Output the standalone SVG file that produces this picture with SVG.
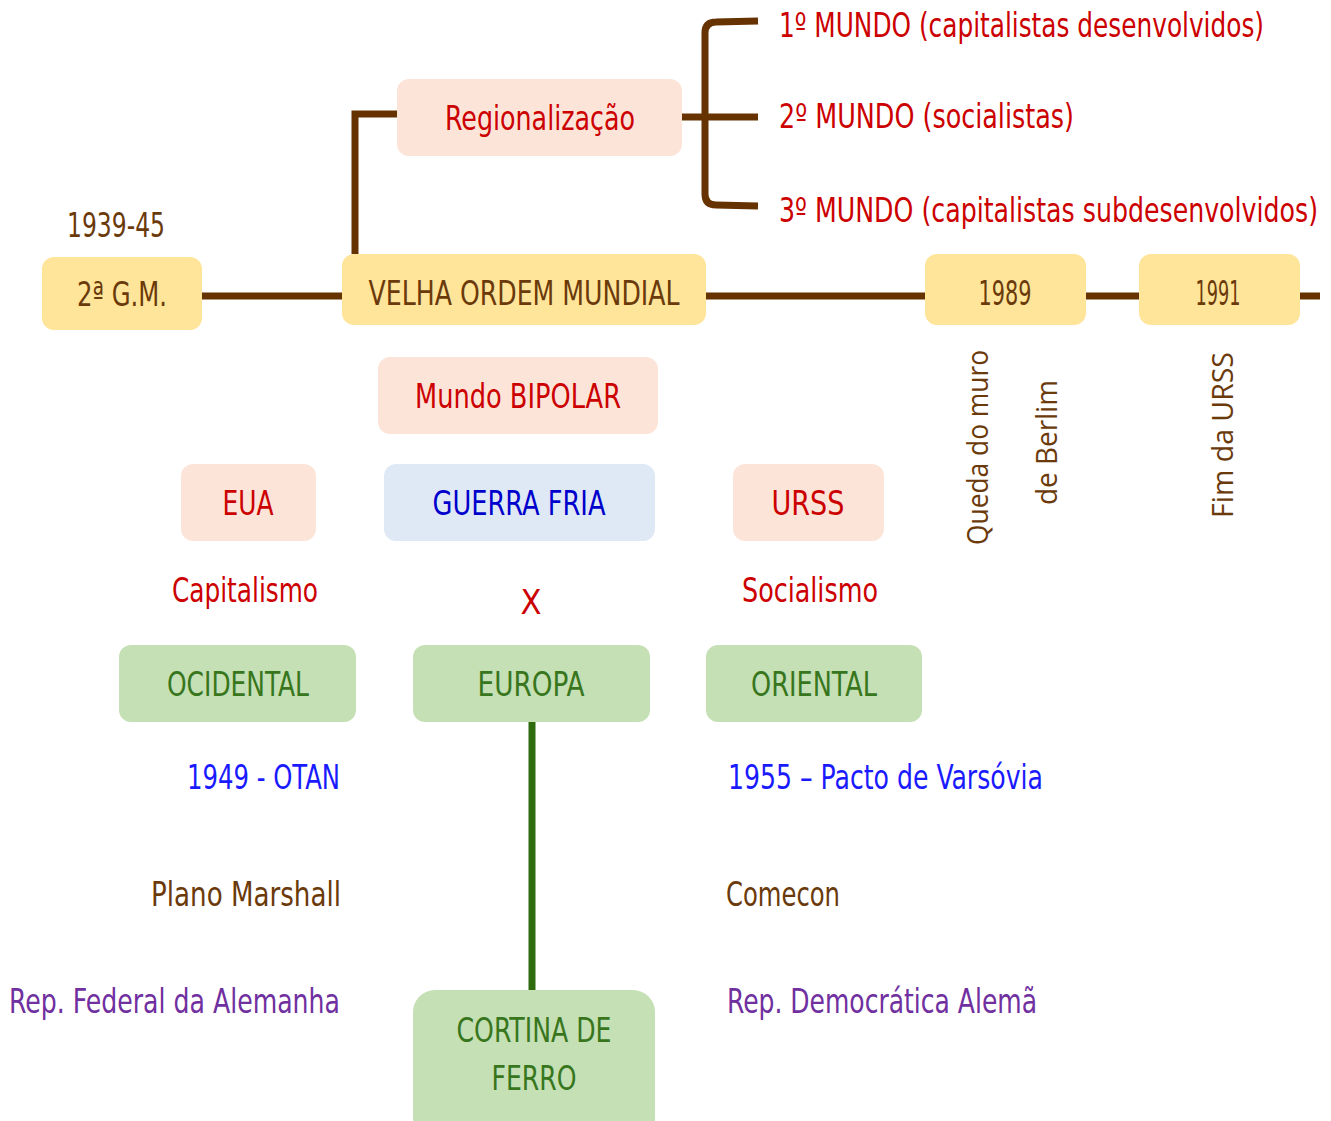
<svg xmlns="http://www.w3.org/2000/svg" width="1331" height="1121" viewBox="0 0 1331 1121">
<style>
text{font-family:"Liberation Sans Narrow","DejaVu Sans Condensed","Liberation Sans",sans-serif;font-size:34px;}
.c{text-anchor:middle}
.e{text-anchor:end}
.brown{fill:#6b3a0b}
.red{fill:#cc0000}
.blue{fill:#0000cc}
.bl2{fill:#1a1aff}
.green{fill:#38761d}
.purple{fill:#7030a0}
.rot{font-family:"Open Sans","Noto Sans","DejaVu Sans",sans-serif;font-size:29px;fill:#6b3a0b}
.sm{font-size:26px}
.y{fill:#ffe599}
.p{fill:#fce5d8}
.b{fill:#dfe9f6}
.g{fill:#c5e0b4}
.ln{fill:none;stroke:#663300;stroke-width:7}
.gl{fill:none;stroke:#2f6b0f;stroke-width:7}
</style>
<rect width="1331" height="1121" fill="#ffffff"/>
<g id="connectors">
<path class="ln" d="M202,296 H342"/>
<path class="ln" d="M355,254 V114 H397"/>
<path class="ln" d="M682,117 H758"/>
<path class="ln" d="M758,21 L716,22 Q705,22 705,33 L705,194 Q705,205 716,205 L758,206"/>
<path class="ln" d="M706,296 H925"/>
<path class="ln" d="M1086,296 H1139"/>
<path class="ln" d="M1300,296 H1320"/>
<path class="gl" d="M532,722 V990"/>
</g>
<g id="n-1939"><text class="brown" x="67" y="237" textLength="98" lengthAdjust="spacingAndGlyphs" font-size="31">1939-45</text></g>
<g id="n-2gm"><rect class="y" x="42" y="257" width="160" height="73" rx="12"/><text class="brown c" x="122" y="306" textLength="90" lengthAdjust="spacingAndGlyphs">2ª G.M.</text></g>
<g id="n-velha"><rect class="y" x="342" y="254" width="364" height="71" rx="12"/><text class="brown c" x="524" y="305" textLength="311" lengthAdjust="spacingAndGlyphs">VELHA ORDEM MUNDIAL</text></g>
<g id="n-regional"><rect class="p" x="397" y="79" width="285" height="77" rx="12"/><text class="red c" x="540" y="130" textLength="190" lengthAdjust="spacingAndGlyphs">Regionalização</text></g>
<g id="n-mundo1"><text class="red sm" transform="translate(779,37) scale(1,1.3)" textLength="485" lengthAdjust="spacingAndGlyphs">1º MUNDO (capitalistas desenvolvidos)</text></g>
<g id="n-mundo2"><text class="red sm" transform="translate(779,128) scale(1,1.3)" textLength="295" lengthAdjust="spacingAndGlyphs">2º MUNDO (socialistas)</text></g>
<g id="n-mundo3"><text class="red sm" transform="translate(779,222) scale(1,1.3)" textLength="539" lengthAdjust="spacingAndGlyphs">3º MUNDO (capitalistas subdesenvolvidos)</text></g>
<g id="n-1989"><rect class="y" x="925" y="254" width="161" height="71" rx="12"/><text class="brown c" x="1005" y="305" textLength="53" lengthAdjust="spacingAndGlyphs">1989</text></g>
<g id="n-1991"><rect class="y" x="1139" y="254" width="161" height="71" rx="12"/><text class="brown c" x="1218" y="305" textLength="45" lengthAdjust="spacingAndGlyphs">1991</text></g>
<g id="n-queda">
<text class="rot" transform="translate(988,545) rotate(-90)" textLength="195" lengthAdjust="spacingAndGlyphs">Queda do muro</text>
<text class="rot" transform="translate(1057,505) rotate(-90)" textLength="125" lengthAdjust="spacingAndGlyphs">de Berlim</text>
</g>
<g id="n-fim"><text class="rot" transform="translate(1233,518) rotate(-90)" textLength="166" lengthAdjust="spacingAndGlyphs">Fim da URSS</text></g>
<g id="n-bipolar"><rect class="p" x="378" y="357" width="280" height="77" rx="12"/><text class="red c" x="518" y="408" textLength="206" lengthAdjust="spacingAndGlyphs">Mundo BIPOLAR</text></g>
<g id="n-eua"><rect class="p" x="181" y="464" width="135" height="77" rx="12"/><text class="red c" x="248" y="515" textLength="51" lengthAdjust="spacingAndGlyphs">EUA</text></g>
<g id="n-guerra"><rect class="b" x="384" y="464" width="271" height="77" rx="12"/><text class="blue c" x="519" y="515" textLength="173" lengthAdjust="spacingAndGlyphs">GUERRA FRIA</text></g>
<g id="n-urss"><rect class="p" x="733" y="464" width="151" height="77" rx="12"/><text class="red c" x="808" y="515" textLength="73" lengthAdjust="spacingAndGlyphs">URSS</text></g>
<g id="n-capitalismo"><text class="red c" x="245" y="602" textLength="146" lengthAdjust="spacingAndGlyphs">Capitalismo</text></g>
<g id="n-x"><text class="red c" x="531" y="614" font-size="46" textLength="21" lengthAdjust="spacingAndGlyphs">X</text></g>
<g id="n-socialismo"><text class="red c" x="810" y="602" textLength="136" lengthAdjust="spacingAndGlyphs">Socialismo</text></g>
<g id="n-ocidental"><rect class="g" x="119" y="645" width="237" height="77" rx="12"/><text class="green c" x="238" y="696" textLength="142" lengthAdjust="spacingAndGlyphs">OCIDENTAL</text></g>
<g id="n-europa"><rect class="g" x="413" y="645" width="237" height="77" rx="12"/><text class="green c" x="531" y="696" textLength="107" lengthAdjust="spacingAndGlyphs">EUROPA</text></g>
<g id="n-oriental"><rect class="g" x="706" y="645" width="216" height="77" rx="12"/><text class="green c" x="814" y="696" textLength="126" lengthAdjust="spacingAndGlyphs">ORIENTAL</text></g>
<g id="n-otan"><text class="bl2 e" x="340" y="789" textLength="153" lengthAdjust="spacingAndGlyphs">1949 - OTAN</text></g>
<g id="n-varsovia"><text class="bl2" x="728" y="789" textLength="315" lengthAdjust="spacingAndGlyphs">1955 – Pacto de Varsóvia</text></g>
<g id="n-marshall"><text class="brown e" x="341" y="906" textLength="190" lengthAdjust="spacingAndGlyphs">Plano Marshall</text></g>
<g id="n-comecon"><text class="brown" x="726" y="906" textLength="114" lengthAdjust="spacingAndGlyphs">Comecon</text></g>
<g id="n-rfa"><text class="purple e" x="340" y="1013" textLength="331" lengthAdjust="spacingAndGlyphs">Rep. Federal da Alemanha</text></g>
<g id="n-rda"><text class="purple" x="727" y="1013" textLength="310" lengthAdjust="spacingAndGlyphs">Rep. Democrática Alemã</text></g>
<g id="n-cortina"><rect class="g" x="413" y="990" width="242" height="150" rx="22"/><text class="green c" x="534" y="1042" textLength="155" lengthAdjust="spacingAndGlyphs">CORTINA DE</text><text class="green c" x="534" y="1090" textLength="85" lengthAdjust="spacingAndGlyphs">FERRO</text></g>
</svg>
